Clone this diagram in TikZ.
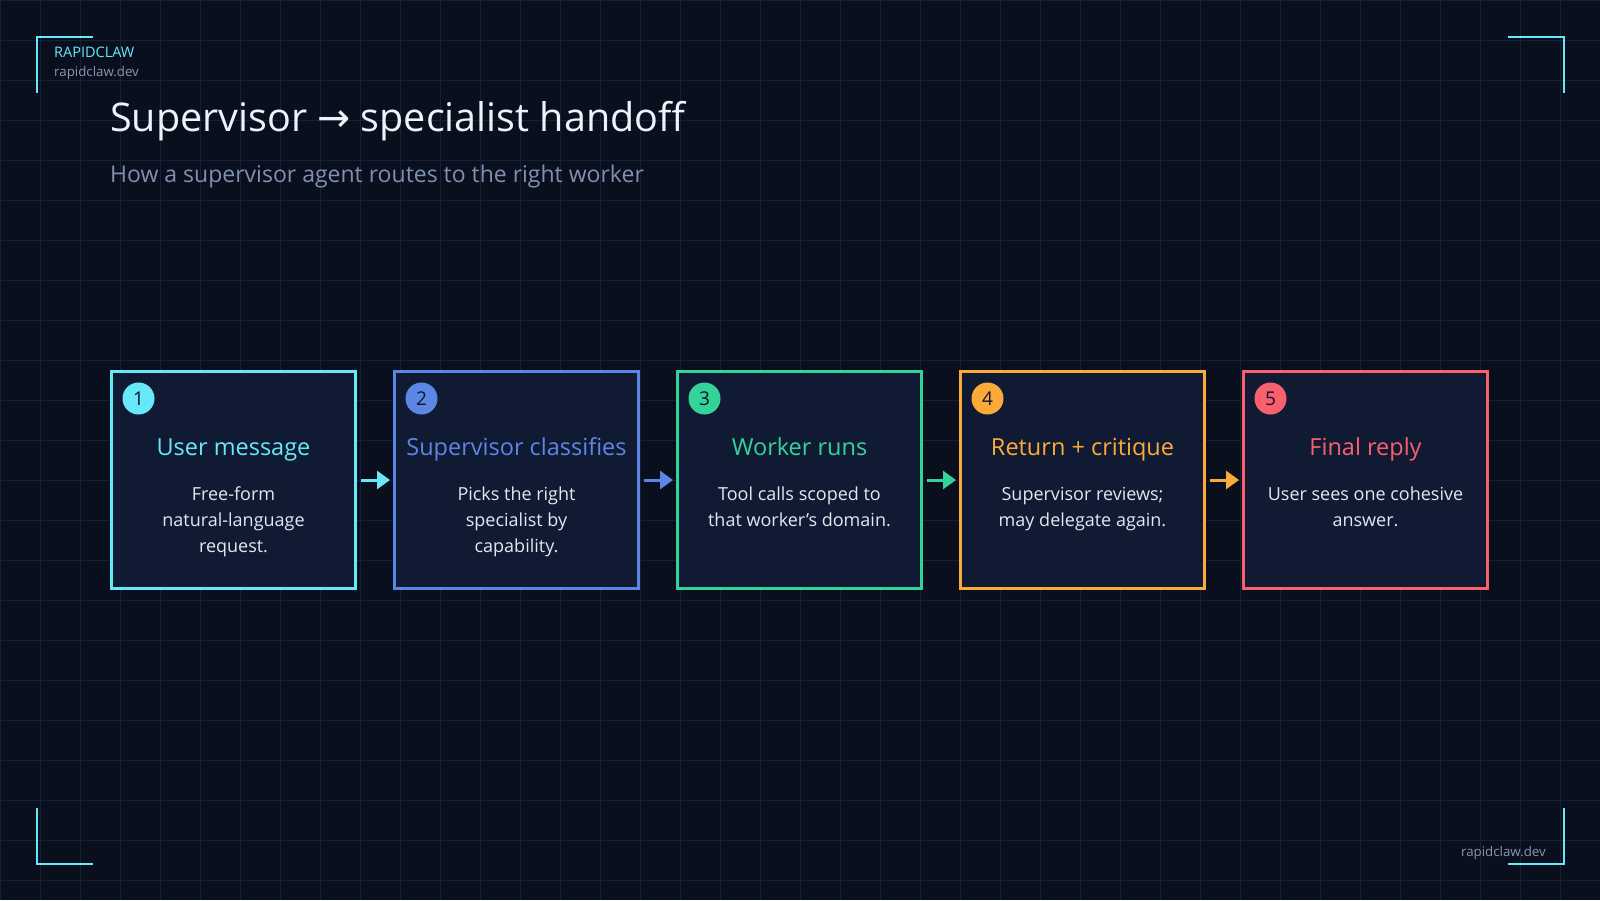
\documentclass[tikz,border=0pt]{standalone}
\usepackage{fontspec}
\setmainfont{Open Sans}
\newfontfamily\symfont{DejaVu Sans}
\usetikzlibrary{
  arrows.meta,
  calc,
}
\definecolor{pagebg}{HTML}{0A0F1E}
\definecolor{gridln}{HTML}{162039}
\definecolor{cardbg}{HTML}{111A33}
\definecolor{cA}{HTML}{67E8F9}
\definecolor{cB}{HTML}{5B86E5}
\definecolor{cC}{HTML}{34D399}
\definecolor{cD}{HTML}{FBAA3A}
\definecolor{cE}{HTML}{F8606D}
\definecolor{titleink}{HTML}{EEF2FA}
\definecolor{subink}{HTML}{8090B0}
\definecolor{bodyink}{HTML}{E2E8F0}
\definecolor{numink}{HTML}{0F172A}
\definecolor{mutedink}{HTML}{8A96B0}

\begin{document}
\begin{tikzpicture}[x=1pt,y=-1pt,
    stage/.style={draw=#1,line width=3pt,fill=cardbg,minimum width=244pt,minimum height=217pt,inner sep=0pt},
    badge/.style={circle,fill=#1,minimum size=32pt,inner sep=0pt,text=numink,font=\fontsize{19}{19}\selectfont},
    heading/.style={anchor=base,text=#1,font=\fontsize{23.5}{28}\selectfont},
    blurb/.style={anchor=north,inner sep=0pt,align=center,text=bodyink,font=\fontsize{18}{26}\selectfont,
      execute at begin node={\rule{0pt}{16pt}}},
    flow/.style={draw=#1,line width=3pt,-{Triangle[length=13pt,width=18pt]},shorten <=4pt,shorten >=3pt},
    bracket/.style={draw=cA,line width=2pt}]
  \useasboundingbox (0,0) rectangle (1600,900);
  \fill[pagebg] (0,0) rectangle (1600,900);

  \foreach \x in {0,40,...,1600}{
      \draw[gridln,line width=1pt] (\x,0) -- (\x,900);
    }
  \foreach \y in {0,40,...,880}{
      \draw[gridln,line width=1pt] (0,\y) -- (1600,\y);
    }

  \draw[bracket] (36.5,92.5) -- (36.5,36.5) -- (92.5,36.5);
  \draw[bracket] (1507.5,36.5) -- (1563.5,36.5) -- (1563.5,92.5);
  \draw[bracket] (36.5,807.5) -- (36.5,863.5) -- (92.5,863.5);
  \draw[bracket] (1507.5,863.5) -- (1563.5,863.5) -- (1563.5,807.5);

  \node[anchor=base west,inner sep=0pt,text=cA,font=\fontsize{14.5}{16}\selectfont] (brand) at (54,57) {RAPIDCLAW};
  \node[anchor=base west,inner sep=0pt,text=mutedink,font=\fontsize{13.3}{16}\selectfont] (site) at (54,76) {rapidclaw.dev};
  \node[anchor=base east,inner sep=0pt,text=mutedink,font=\fontsize{13.3}{16}\selectfont] (footer) at (1546,856) {rapidclaw.dev};

  \node[anchor=base west,inner sep=0pt,text=titleink,font=\fontsize{39.5}{48}\selectfont] (title) at (110,131)
    {Supervisor {\symfont →} specialist handoff};
  \node[anchor=base west,inner sep=0pt,text=subink,font=\fontsize{23}{28}\selectfont] (subtitle) at (110,182)
    {How a supervisor agent routes to the right worker};

  \foreach \i/\col/\ttl/\txt in {
      1/cA/User message/{Free-form\\natural-language\\request.},
      2/cB/Supervisor classifies/{Picks the right\\specialist by\\capability.},
      3/cC/Worker runs/{Tool calls scoped to\\that worker's domain.},
      4/cD/Return + critique/{Supervisor reviews;\\may delegate again.},
      5/cE/Final reply/{User sees one cohesive\\answer.}}{
      \node[stage=\col] (stage\i) at ({233.5+283*(\i-1)},480) {};
      \node[badge=\col] (num\i) at ($(stage\i.north west)+(28.5,28.5)$) {\i};
      \node[heading=\col] (head\i) at ($(stage\i.center)+(0,-25)$) {\ttl};
      \node[blurb] (desc\i) at ($(stage\i.center)+(0,7)$) {\txt};
    }

  \foreach \i/\j/\col in {1/2/cA,2/3/cB,3/4/cC,4/5/cD}{
      \draw[flow=\col] (stage\i.east) -- (stage\j.west);
    }
\end{tikzpicture}
\end{document}
